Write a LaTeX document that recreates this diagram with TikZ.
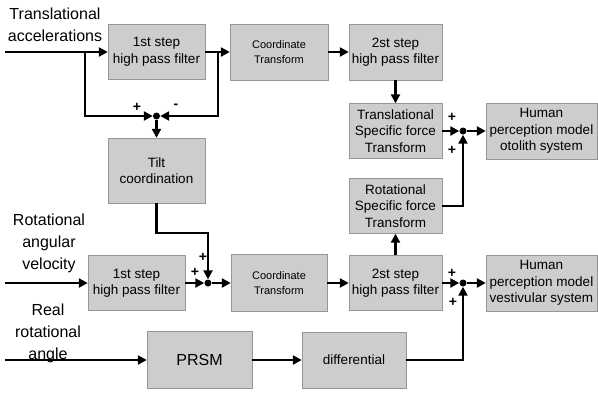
\documentclass[tikz,border=0pt]{standalone}
\usepackage{fontspec}
\setmainfont{Liberation Sans}
\usepackage{tikz}
\usetikzlibrary{arrows,arrows.meta,shapes,positioning}
\definecolor{blkfill}{RGB}{205,205,205}
\definecolor{blkline}{RGB}{150,150,150}
\tikzstyle{block} = [rectangle, minimum width=93pt, minimum height=55pt, text centered, align=center, draw=blkline, fill=blkfill, inner sep=1pt, font=\fontsize{13.5}{16.5}\selectfont]
\tikzstyle{conn} = [line width=2.4pt, -{Triangle[length=9pt,width=9pt]}]
\tikzstyle{junction} = [circle, fill=black, inner sep=0pt, minimum size=7pt]
\tikzstyle{sign} = [inner sep=0pt, font=\bfseries\fontsize{14}{14}\selectfont]
\tikzstyle{inlabel} = [align=center, inner sep=0pt, font=\fontsize{16}{22}\selectfont]

\begin{document}
\begin{tikzpicture}[x=1pt, y=-1pt, node distance=122.5pt]
\useasboundingbox (0,0) rectangle (598,392);

% Input labels
\node (ltrans) [inlabel] at (55,25) {Translational\\accelerations};
\node (lrot) [inlabel] at (49,243) {Rotational\\angular\\velocity};
\node (lreal) [inlabel] at (48,333) {Real\\rotational\\angle};

% Translational path
\node (hpf1) [block, minimum width=97pt] at (156.5,52) {1st step\\high pass filter};
\node (ct1) [block, right of=hpf1, minimum width=98pt, minimum height=56pt, font=\fontsize{11}{14.5}\selectfont] {Coordinate\\Transform};
\node (hpf2) [block, right of=ct1, xshift=-6pt, minimum height=56pt] {2st step\\high pass filter};
\node (tsf) [block, below of=hpf2, yshift=43.5pt] {Translational\\Specific force\\Transform};
\node (hum1) [block, right of=tsf, xshift=23.5pt, minimum width=111pt, minimum height=56pt] {Human\\perception model\\otolith system};
\node (tilt) [block, below of=hpf1, yshift=4pt, minimum width=97pt, minimum height=65pt] {Tilt\\coordination};

% Rotational path
\node (rsf) [block, below of=tsf, yshift=47.5pt] {Rotational\\Specific force\\Transform};
\node (hpf2b) [block, below of=rsf, yshift=45.5pt] {2st step\\high pass filter};
\node (hum2) [block, right of=hpf2b, xshift=23.5pt, minimum width=111pt, minimum height=56pt] {Human\\perception model\\vestivular system};
\node (ct2) [block, left of=hpf2b, xshift=6pt, minimum width=96pt, minimum height=57pt, font=\fontsize{11}{14.5}\selectfont] {Coordinate\\Transform};
\node (hpf1b) [block, left of=ct2, xshift=-20pt, minimum width=97pt] {1st step\\high pass filter};
\node (prsm) [block, below of=hpf1b, yshift=45.5pt, xshift=63pt, minimum width=105pt, minimum height=57pt, font=\fontsize{16}{18}\selectfont] {PRSM};
\node (diff) [block, right of=prsm, xshift=32pt, minimum width=104pt, minimum height=56pt] {differential};

% Summing points
\node (s0) [junction, below of=hpf1, yshift=58.5pt] {};
\node (s1) [junction, right of=tsf, xshift=-55pt] {};
\node (s2) [junction, right of=hpf2b, xshift=-55pt] {};
\node (s3) [junction, right of=hpf1b, xshift=-51pt] {};

% Signs
\node (pl0) [sign] at (137,107) {+};
\node (mi0) [sign] at (176,106) {-};
\node (pl1a) [sign] at (452,117) {+};
\node (pl1b) [sign] at (452,150) {+};
\node (pl2a) [sign] at (452,273) {+};
\node (pl2b) [sign] at (453,302) {+};
\node (pl3a) [sign] at (195,272) {+};
\node (pl3b) [sign] at (203,257) {+};

% Free ends and bends
\coordinate (in0) at (5,52);
\coordinate (in1) at (5,283);
\coordinate (in2) at (5,360);
\coordinate (b0) at (85,52);
\coordinate (b1) at (218,52);
\coordinate (k) at (208,233);

% Connectors
\draw[conn] (in0) -- (hpf1);
\draw[conn] (b0) |- (s0);
\draw[conn] (hpf1) -- (ct1);
\draw[conn] (b1) |- (s0);
\draw[conn] (s0) -- (tilt);
\draw[conn] (ct1) -- (hpf2);
\draw[conn] (hpf2) -- (tsf);
\draw[conn] (tsf) -- (s1);
\draw[conn] (s1) -- (hum1);
\draw[conn] (rsf) -| (s1);
\draw[conn] (tilt) |- (k) -- (s3);
\draw[conn] (in1) -- (hpf1b);
\draw[conn] (hpf1b) -- (s3);
\draw[conn] (s3) -- (ct2);
\draw[conn] (ct2) -- (hpf2b);
\draw[conn] (hpf2b) -- (rsf);
\draw[conn] (hpf2b) -- (s2);
\draw[conn] (s2) -- (hum2);
\draw[conn] (in2) -- (prsm);
\draw[conn] (prsm) -- (diff);
\draw[conn] (diff) -| (s2);
\end{tikzpicture}
\end{document}
